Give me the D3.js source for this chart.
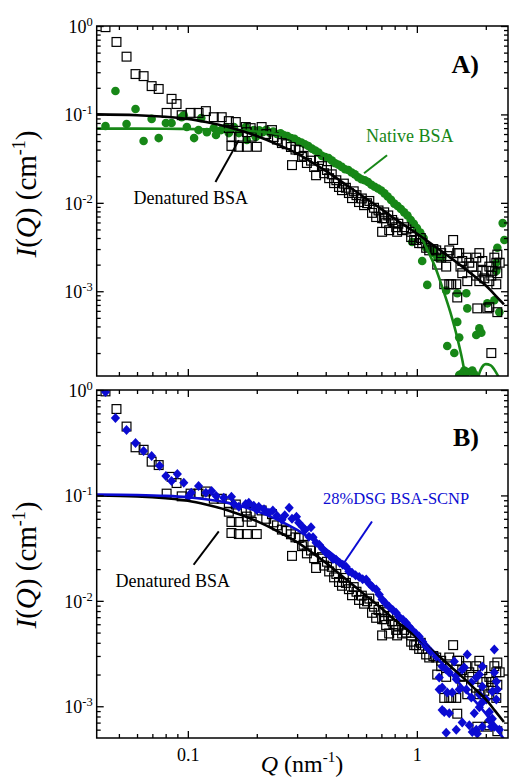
<!DOCTYPE html>
<html><head><meta charset="utf-8">
<script src="https://cdn.jsdelivr.net/npm/d3@7"></script>
<style>
html,body{margin:0;padding:0;background:#fff;}
svg{display:block;}
svg text{font-family:"Liberation Serif","Times New Roman",serif;}
</style></head><body>
<svg id="chart" width="511" height="779" font-family="Liberation Serif, Times New Roman, serif"></svg>
<script>
// ---------------- DATA ----------------
const xTickValues = [0.1, 1];
const xTickLabels = ["0.1", "1"];
const yTickValues = [1, 0.1, 0.01, 0.001];
const yTickExponents = ["0", "-1", "-2", "-3"];

// Denatured BSA (open squares), [Q nm^-1, I cm^-1]
const denatured = [
[0.0437,0.97],[0.0488,0.66],[0.054,0.45],[0.0591,0.286],[0.0641,0.271],[0.0695,0.209],[0.0746,0.194],[0.0808,0.104],[0.0849,0.150],[0.0893,0.131],[0.094,0.098],[0.1028,0.104],[0.1114,0.104],[0.1199,0.109],[0.1298,0.093],[0.1406,0.093],[0.151,0.084],[0.162,0.082],[0.151,0.070],[0.155,0.056],[0.167,0.056],[0.181,0.063],[0.179,0.072],[0.190,0.056],[0.155,0.044],[0.167,0.043],[0.181,0.043],[0.200,0.043],
[0.188,0.070],[0.210,0.072],[0.22,0.060],[0.233,0.0665],[0.237,0.0555],[0.245,0.052],[0.2575,0.0474],[0.27,0.046],[0.282,0.0428],[0.285,0.0267],[0.295,0.040],[0.305,0.0395],[0.315,0.033],[0.32,0.034],[0.331,0.0282],[0.345,0.030],[0.356,0.0254],[0.363,0.0205],[0.374,0.0305],[0.385,0.026],[0.394,0.0216],[0.405,0.0235],[0.414,0.019],[0.425,0.021],[0.435,0.0167],[0.445,0.018],[0.457,0.0151],[0.471,0.0139],[0.48,0.0165],[0.49,0.0148],[0.505,0.0129],[0.521,0.0113],[0.53,0.0135],[0.545,0.0122],[0.559,0.0102],[0.575,0.0112],[0.588,0.0094],[0.606,0.0099],[0.62,0.0105],[0.637,0.0077],[0.65,0.0088],[0.664,0.0069],[0.68,0.0082],[0.705,0.0067],[0.705,0.0047],[0.719,0.0067],[0.72,0.0078],[0.734,0.0059],[0.75,0.0072],[0.757,0.0049],[0.78,0.0064],[0.79,0.0060],[0.812,0.0053],[0.82,0.0047],[0.83,0.0058],[0.862,0.0049],[0.88,0.0053],[0.9,0.0050],[0.944,0.0047],[0.944,0.0041],[0.973,0.0038],[0.993,0.0038],[1.023,0.0035],[1.04,0.0040],[1.055,0.0035],[1.098,0.0031],[1.132,0.0029],[1.18,0.0030],[1.215,0.0029],[1.227,0.0020],[1.277,0.0027],[1.277,0.0024],[1.317,0.0012],[1.343,0.0019],[1.36,0.0025],[1.385,0.0029],[1.385,0.0012],[1.413,0.0012],[1.44,0.0038],[1.486,0.0012],[1.501,0.00085],[1.50,0.0027],[1.531,0.0027],[1.55,0.0019],[1.578,0.0022],[1.578,0.0016],[1.644,0.0024],[1.66,0.0013],[1.694,0.0021],[1.746,0.0019],[1.817,0.0024],[1.817,0.0015],[1.836,0.00064],[1.874,0.0027],[1.874,0.0013],[1.931,0.0022],[1.931,0.0017],[1.97,0.0014],[2.011,0.0017],[2.031,0.00064],[2.072,0.0019],[2.072,0.0013],[2.072,0.00066],[2.114,0.0015],[2.114,0.0002],[2.136,0.0017],[2.179,0.0024],[2.223,0.0021],[2.223,0.0012],[2.246,0.0026],[2.246,0.0016],[2.246,0.00058],[2.3,0.0021]
];

// Native BSA (filled green circles)
const native = [
[0.0437,0.074],[0.0483,0.184],[0.054,0.078],[0.0591,0.115],[0.0641,0.050],[0.0695,0.089],[0.0746,0.054],[0.0802,0.080],[0.0849,0.080],[0.094,0.093],[0.096,0.098],[0.099,0.072],[0.1065,0.054],[0.1114,0.0665],[0.1145,0.091],[0.1211,0.063],[0.1298,0.0703],[0.1327,0.0586],[0.1397,0.0665],[0.147,0.072],[0.151,0.0615],[0.159,0.072],[0.167,0.0615],[0.179,0.072],[0.181,0.0513],[0.194,0.0665],[0.198,0.0555],
[0.205,0.066],[0.212,0.063],[0.22,0.067],[0.228,0.062],[0.236,0.064],[0.245,0.060],[0.254,0.061],[0.263,0.058],[0.272,0.057],[0.282,0.054],[0.292,0.053],[0.302,0.050],[0.313,0.048],[0.324,0.046],[0.336,0.044],[0.348,0.041],[0.36,0.039],[0.372,0.037],[0.385,0.034],[0.398,0.033],[0.412,0.032],[0.426,0.030],[0.44,0.028],[0.455,0.027],[0.47,0.0255],[0.486,0.024],[0.502,0.0235],[0.519,0.022],[0.536,0.021],[0.554,0.0195],[0.573,0.0185],[0.592,0.018],[0.612,0.0172],[0.633,0.016],[0.654,0.0152],[0.676,0.0145],[0.699,0.0138],[0.722,0.0128],[0.746,0.0118],[0.771,0.0108],[0.797,0.0098],[0.824,0.0092],[0.852,0.0085],[0.88,0.0078],[0.91,0.0072],[0.94,0.0064],[0.97,0.0058],[1.0,0.0052],[1.035,0.0046],[1.07,0.0040],
[0.954,0.0036],[1.1,0.0031],[1.055,0.0022],[1.11,0.00118],[1.17,0.0029],[1.19,0.0027],[1.23,0.0024],[1.29,0.0024],[1.343,0.00102],[1.357,0.00024],[1.457,0.0002],[1.501,0.00095],[1.501,0.00045],[1.531,0.0003],[1.531,0.000113],[1.578,0.000118],[1.611,0.000127],[1.644,0.00095],[1.66,0.00064],[1.66,0.000122],[1.746,0.000127],[1.781,0.000115],[1.817,0.00032],[1.874,0.00038],[1.912,0.00034],[2.031,0.00073],[2.179,0.00079],[2.223,0.0017],[2.223,0.0021],[2.246,0.0031],[2.292,0.00058],[2.37,0.0059],[2.41,0.0038]
];

// 28%DSG BSA-SCNP (filled blue diamonds)
const dsg = [
[0.0437,0.957],[0.0483,0.543],[0.054,0.418],[0.0591,0.315],[0.0641,0.264],[0.0695,0.237],[0.0753,0.191],[0.0802,0.153],[0.0849,0.137],[0.0900,0.160],[0.0960,0.132],[0.1005,0.097],[0.1035,0.106],[0.1114,0.123],[0.1199,0.106],[0.127,0.110],[0.133,0.099],[0.1435,0.095],[0.155,0.097],[0.159,0.083],[0.167,0.078],[0.179,0.083],[0.1846,0.085],[0.194,0.080],[0.200,0.073],[0.204,0.078],[0.215,0.074],[0.226,0.0684],[0.235,0.072],[0.245,0.064],[0.2575,0.0587],[0.265,0.065],[0.277,0.0763],[0.285,0.060],[0.298,0.0626],[0.305,0.055],[0.318,0.050],[0.325,0.047],[0.338,0.0406],[0.345,0.050],[0.352,0.040],[0.363,0.0356],[0.375,0.034],[0.388,0.031],[0.401,0.0286],[0.415,0.027],[0.43,0.025],[0.444,0.0245],[0.46,0.023],[0.475,0.022],[0.491,0.0211],[0.505,0.019],[0.521,0.0185],[0.54,0.0175],[0.56,0.0168],[0.58,0.016],[0.601,0.0159],[0.62,0.0145],[0.64,0.0135],[0.665,0.0128],[0.685,0.0115],[0.705,0.0103],[0.73,0.0095],[0.757,0.0088],[0.785,0.0082],[0.812,0.0077],[0.84,0.0070],[0.87,0.0066],[0.898,0.0062],[0.925,0.0057],[0.954,0.0053],[0.99,0.0049],[1.023,0.00458],[1.06,0.0041],[1.098,0.00368],[1.15,0.0033],[1.215,0.00296],
[1.252,0.00187],[1.252,0.00144],[1.29,0.00238],[1.29,0.00151],[1.29,0.00092],[1.317,0.00088],[1.343,0.00223],[1.343,0.00056],[1.357,0.00135],[1.385,0.00209],[1.385,0.00086],[1.427,0.00135],[1.457,0.00266],[1.486,0.0018],[1.486,0.0006],[1.501,0.002],[1.531,0.00144],[1.578,0.00223],[1.578,0.0007],[1.611,0.00233],[1.644,0.00144],[1.66,0.0031],[1.694,0.00066],[1.729,0.00168],[1.729,0.00121],[1.746,0.00057],[1.781,0.00086],[1.817,0.00187],[1.817,0.0006],[1.836,0.00055],[1.874,0.002],[1.874,0.00129],[1.874,0.00098],[1.931,0.00238],[1.931,0.00154],[1.931,0.00109],[1.931,0.00064],[2.011,0.00116],[2.072,0.00088],[2.072,0.00074],[2.114,0.00064],[2.136,0.00138],[2.136,0.00076],[2.179,0.00345],[2.179,0.00209],[2.179,0.00064],[2.223,0.00172],[2.223,0.00116],[2.246,0.00144],[2.292,0.0006]
];

// Model fits
const denaturedFit = [[0.04,0.100],[0.06,0.098],[0.08,0.094],[0.1,0.089],[0.12,0.082],[0.15,0.072],[0.2,0.057],[0.25,0.045],[0.3,0.036],[0.35,0.0285],[0.4,0.023],[0.5,0.0155],[0.6,0.0112],[0.7,0.0085],[0.8,0.0066],[0.9,0.0054],[1.0,0.0045],[1.2,0.0032],[1.4,0.0024],[1.6,0.00185],[1.8,0.00145],[2.0,0.00116],[2.2,0.0009],[2.4,0.00071]];
const nativeFit = [[0.04,0.069],[0.06,0.069],[0.08,0.0688],[0.1,0.0684],[0.15,0.067],[0.2,0.064],[0.25,0.0595],[0.3,0.049],[0.36,0.038],[0.43,0.030],[0.5,0.024],[0.6,0.0178],[0.7,0.0135],[0.8,0.0100],[0.9,0.0072],[1.0,0.0051],[1.1,0.0031],[1.2,0.0019],[1.3,0.00105],[1.4,0.00058],[1.5,0.0003],[1.6,0.00014],[1.7,0.00005],[1.76,0.000025],[1.82,0.00008],[1.9,0.00013],[2.0,0.00015],[2.1,0.000145],[2.2,0.000125],[2.3,0.0001],[2.4,0.00007]];
const dsgFit = [[0.04,0.102],[0.06,0.101],[0.08,0.099],[0.1,0.096],[0.12,0.092],[0.15,0.085],[0.2,0.071],[0.25,0.058],[0.3,0.047],[0.4,0.031],[0.5,0.021],[0.6,0.0148],[0.7,0.0108],[0.8,0.0080],[1.0,0.0047],[1.3,0.0025],[1.6,0.00148],[2.0,0.00085],[2.35,0.00052],[2.5,0.00043]];

// Annotations (data coordinates): text anchor and pointer line
const annA = [
  {text:"Denatured BSA", color:"black", size:18, at:[0.0579,0.0096], line:[[0.132,0.01725],[0.167,0.0512]]},
  {text:"Native BSA", color:"green", size:18, at:[0.60,0.0486], line:[[0.741,0.0346],[0.588,0.0216]]}
];
const annB = [
  {text:"Denatured BSA", color:"black", size:18, at:[0.0483,0.0136], line:[[0.106,0.022],[0.1365,0.0455]]},
  {text:"28%DSG BSA-SCNP", color:"blue", size:16.5, at:[0.389,0.0833], line:[[0.637,0.0566],[0.481,0.023]]}
];

// ---------------- DRAW ----------------
const FONT = "Liberation Serif, Times New Roman, serif";
const GREEN = "#178717", BLUE = "#0b0bd2";
const colorOf = {black:"#000", green:GREEN, blue:BLUE};
const svg = d3.select("#chart");
const plotLeft = 96.7, plotRight = 508;
const x = d3.scaleLog().domain([0.04, 2.5]).range([plotLeft, plotRight]);

function minorsBetween(lo, hi) {
  const out = [];
  for (let e = -5; e <= 1; e++) for (let k = 2; k <= 9; k++) {
    const v = k * Math.pow(10, e);
    if (v > lo * 1.0001 && v < hi * 0.9999) out.push(v);
  }
  return out;
}
const xMinor = minorsBetween(0.04, 2.5);

function styleAxis(a) {
  a.select(".domain").remove();
  a.selectAll("line").attr("stroke", "#000").attr("stroke-width", 1.3);
  a.attr("font-family", FONT).attr("font-size", null);
}

function drawPanel(cfg) {
  const y = d3.scaleLog().domain(cfg.yDomain).range([cfg.bottom, cfg.top]);
  const g = svg.append("g").attr("font-family", FONT);
  const clipId = "clip" + cfg.key;
  svg.append("clipPath").attr("id", clipId).append("rect")
    .attr("x", plotLeft).attr("y", cfg.top).attr("width", plotRight - plotLeft).attr("height", cfg.bottom - cfg.top);
  const plot = g.append("g").attr("clip-path", `url(#${clipId})`);
  const line = d3.line().x(d => x(d[0])).y(d => y(d[1])).curve(d3.curveMonotoneX);

  cfg.layers.forEach(L => {
    if (L.type === "square") {
      plot.append("g").selectAll("rect").data(L.data).join("rect")
        .attr("x", d => x(d[0]) - 4.4).attr("y", d => y(d[1]) - 4.4)
        .attr("width", 8.8).attr("height", 8.8)
        .attr("fill", "none").attr("stroke", "#000").attr("stroke-width", 1.2);
    } else if (L.type === "circle") {
      plot.append("g").selectAll("circle").data(L.data).join("circle")
        .attr("cx", d => x(d[0])).attr("cy", d => y(d[1])).attr("r", 4.3)
        .attr("fill", L.color);
    } else if (L.type === "diamond") {
      plot.append("g").selectAll("path").data(L.data).join("path")
        .attr("transform", d => `translate(${x(d[0])},${y(d[1])})`)
        .attr("d", "M0,-5L4.6,0L0,5L-4.6,0Z").attr("fill", L.color);
    } else if (L.type === "line") {
      plot.append("path").datum(L.data).attr("d", line)
        .attr("fill", "none").attr("stroke", L.color).attr("stroke-width", 2.6);
    }
  });

  cfg.ann.forEach(a => {
    const c = colorOf[a.color];
    g.append("line")
      .attr("x1", x(a.line[0][0])).attr("y1", y(a.line[0][1]))
      .attr("x2", x(a.line[1][0])).attr("y2", y(a.line[1][1]))
      .attr("stroke", c).attr("stroke-width", 2);
    g.append("text").attr("x", x(a.at[0])).attr("y", y(a.at[1]))
      .attr("font-family", FONT)
      .attr("fill", c).attr("font-size", a.size).text(a.text);
  });

  g.append("rect").attr("x", plotLeft).attr("y", cfg.top)
    .attr("width", plotRight - plotLeft).attr("height", cfg.bottom - cfg.top)
    .attr("fill", "none").attr("stroke", "#000").attr("stroke-width", 1.5);

  const yMinor = minorsBetween(cfg.yDomain[0], cfg.yDomain[1]);
  const left = g.append("g").attr("transform", `translate(${plotLeft},0)`)
    .call(d3.axisLeft(y).tickValues(yTickValues).tickSize(-7).tickPadding(4).tickFormat(""));
  styleAxis(left);
  left.selectAll("text").each(function(d, i) {
    const t = d3.select(this);
    t.attr("font-size", 18).attr("fill", "#000").attr("dy", "0.36em");
    t.append("tspan").text("10");
    t.append("tspan").attr("dy", -7).attr("font-size", 12.5).text(yTickExponents[i]);
  });
  styleAxis(g.append("g").attr("transform", `translate(${plotLeft},0)`)
    .call(d3.axisLeft(y).tickValues(yMinor).tickSize(-4).tickFormat("")));
  styleAxis(g.append("g").attr("transform", `translate(${plotRight},0)`)
    .call(d3.axisRight(y).tickValues(yTickValues).tickSize(-7).tickFormat("")));
  styleAxis(g.append("g").attr("transform", `translate(${plotRight},0)`)
    .call(d3.axisRight(y).tickValues(yMinor).tickSize(-4).tickFormat("")));
  styleAxis(g.append("g").attr("transform", `translate(0,${cfg.top})`)
    .call(d3.axisTop(x).tickValues(xTickValues).tickSize(-7).tickFormat("")));
  styleAxis(g.append("g").attr("transform", `translate(0,${cfg.top})`)
    .call(d3.axisTop(x).tickValues(xMinor).tickSize(-4).tickFormat("")));
  const bot = g.append("g").attr("transform", `translate(0,${cfg.bottom})`)
    .call(d3.axisBottom(x).tickValues(xTickValues).tickSize(-7).tickPadding(10)
      .tickFormat((d, i) => cfg.xLabels ? xTickLabels[i] : ""));
  styleAxis(bot);
  bot.selectAll("text").attr("font-size", 18).attr("fill", "#000");
  styleAxis(g.append("g").attr("transform", `translate(0,${cfg.bottom})`)
    .call(d3.axisBottom(x).tickValues(xMinor).tickSize(-4).tickFormat("")));

  g.append("text").attr("x", 479).attr("y", cfg.labelY).attr("text-anchor", "end")
    .attr("font-family", FONT)
    .attr("font-size", 26).attr("font-weight", "bold").text(cfg.label);

  const yt = g.append("text").attr("text-anchor", "middle").attr("font-size", 29)
    .attr("font-family", FONT)
    .attr("transform", `translate(36,${cfg.titleY}) rotate(-90)`);
  yt.append("tspan").attr("font-style", "italic").text("I");
  yt.append("tspan").text("(");
  yt.append("tspan").attr("font-style", "italic").text("Q");
  yt.append("tspan").text(") (cm");
  yt.append("tspan").attr("dy", -11).attr("font-size", 18).text("-1");
  yt.append("tspan").attr("dy", 11).text(")");
}

drawPanel({key:"A", top:26, bottom:376, yDomain:[1.1e-4, 1], label:"A)", labelY:73, xLabels:false, titleY:194,
  ann: annA,
  layers:[
    {type:"circle", data:native, color:GREEN},
    {type:"square", data:denatured},
    {type:"line", data:nativeFit, color:GREEN},
    {type:"line", data:denaturedFit, color:"#000"}
  ]});
drawPanel({key:"B", top:390, bottom:738, yDomain:[5e-4, 1], label:"B)", labelY:446, xLabels:true, titleY:565,
  ann: annB,
  layers:[
    {type:"square", data:denatured},
    {type:"diamond", data:dsg, color:BLUE},
    {type:"line", data:denaturedFit, color:"#000"},
    {type:"line", data:dsgFit, color:BLUE}
  ]});

const xt = svg.append("text").attr("x", 302).attr("y", 772).attr("text-anchor", "middle")
  .attr("font-family", FONT).attr("font-size", 24);
xt.append("tspan").attr("font-style", "italic").text("Q");
xt.append("tspan").text(" (nm");
xt.append("tspan").attr("dy", -10).attr("font-size", 15).text("-1");
xt.append("tspan").attr("dy", 10).text(")");
</script>
</body></html>
